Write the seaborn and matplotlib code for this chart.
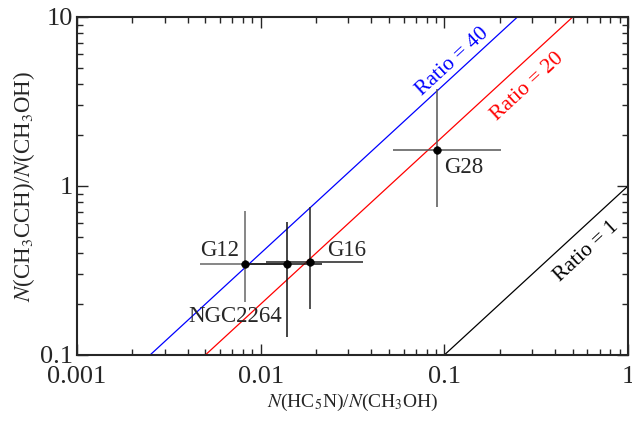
import numpy as np
import pandas as pd
import matplotlib
matplotlib.use("Agg")
import matplotlib.pyplot as plt
import seaborn as sns

# Data
sources = ["G12", "NGC2264", "G16", "G28"]
x_val = [0.0082, 0.0139, 0.0186, 0.0914]
x_lo = [0.00467, 0.0085, 0.0107, 0.0527]
x_hi = [0.0144, 0.0215, 0.0362, 0.203]
y_val = [0.346, 0.345, 0.356, 1.63]
y_lo = [0.206, 0.128, 0.187, 0.755]
y_hi = [0.711, 0.61, 0.755, 3.73]
bar_colors = ["#666666", "#111111", "#222222", "#555555"]
label_x = [0.0060, 0.00724, 0.0295, 0.128]
label_y = [0.418, 0.168, 0.418, 1.295]

ratios = [40, 20, 1]
ratio_colors = ["blue", "red", "black"]
ratio_text_x = [0.111, 0.285, 0.595]
ratio_text_y = [5.42, 3.85, 0.41]
line_x = [0.001, 1.0]

sns.set_style("ticks")
plt.rcParams["font.family"] = ["Liberation Serif", "DejaVu Serif"]
plt.rcParams["mathtext.fontset"] = "stix"

fig = plt.figure(figsize=(6.32, 4.28), dpi=100)
ax = fig.add_axes([0.1218, 0.1706, 0.8719, 0.7897])

for r, c in zip(ratios, ratio_colors):
    df = pd.DataFrame({"x": line_x, "y": [r * v for v in line_x]})
    sns.lineplot(data=df, x="x", y="y", color=c, lw=0.9, ax=ax)

for i in range(len(sources)):
    ax.errorbar(x_val[i], y_val[i],
                xerr=[[x_val[i] - x_lo[i]], [x_hi[i] - x_val[i]]],
                yerr=[[y_val[i] - y_lo[i]], [y_hi[i] - y_val[i]]],
                fmt="none", ecolor=bar_colors[i], elinewidth=1.1, capsize=0)

pts = pd.DataFrame({"x": x_val, "y": y_val})
sns.scatterplot(data=pts, x="x", y="y", color="black", s=30, edgecolor="black", zorder=5, ax=ax)

for s, lx, ly in zip(sources, label_x, label_y):
    ax.text(lx, ly, s, fontsize=16.5, ha="center", va="center")

for r, c, tx, ty in zip(ratios, ratio_colors, ratio_text_x, ratio_text_y):
    ax.text(tx, ty, f"Ratio = {r}", color=c, fontsize=15.5, rotation=42.6,
            ha="center", va="center", rotation_mode="anchor")

ax.set_xscale("log")
ax.set_yscale("log")
ax.set_xlim(0.001, 1)
ax.set_ylim(0.1, 10)
ax.set_xticks([0.001, 0.01, 0.1, 1])
ax.set_xticklabels(["0.001", "0.01", "0.1", "1"])
ax.set_yticks([0.1, 1, 10])
ax.set_yticklabels(["0.1", "1", "10"])
ax.tick_params(which="both", direction="in", top=True, right=True, width=1)
ax.tick_params(which="major", length=8, labelsize=19)
ax.tick_params(axis="x", which="major", pad=8)
ax.tick_params(axis="y", which="major", pad=3)
ax.tick_params(which="minor", length=4)
for sp in ax.spines.values():
    sp.set_linewidth(1.5)

ax.set_xlabel(r"$N$(HC$_5$N)/$N$(CH$_3$OH)", fontsize=14, labelpad=3)
ax.set_ylabel(r"$N$(CH$_3$CCH)/$N$(CH$_3$OH)", fontsize=16.5, labelpad=2)

fig.savefig("out.png", dpi=100)
